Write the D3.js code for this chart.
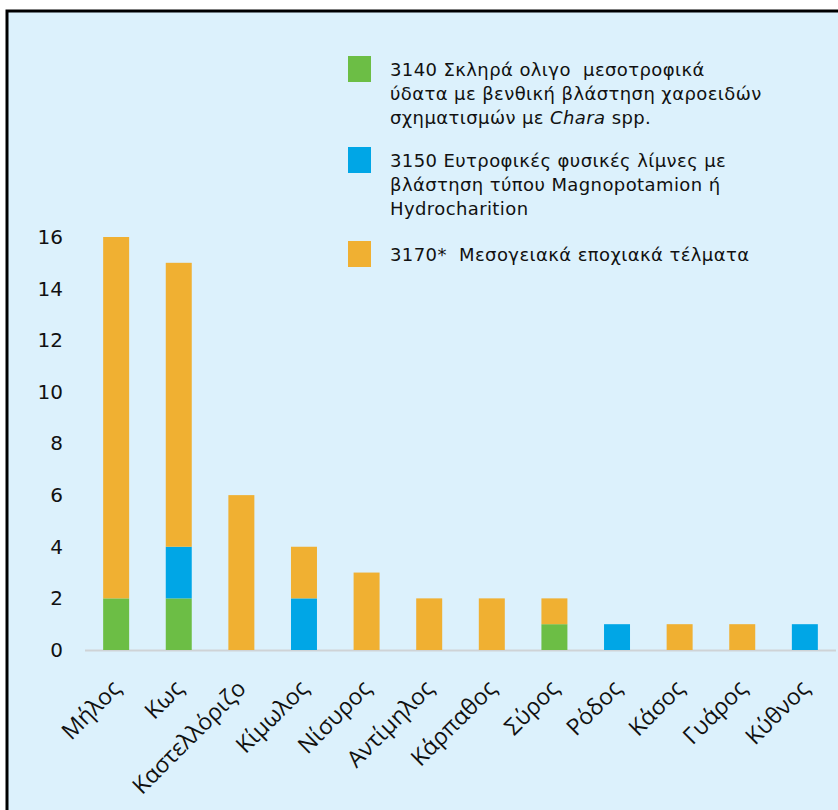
<!DOCTYPE html>
<html>
<head>
<meta charset="utf-8">
<script src="https://cdn.jsdelivr.net/npm/d3@7"></script>
<style>
  body { margin: 0; background: #fff; }
</style>
</head>
<body>
<div id="chart"></div>
<script>
// islands and habitat counts
const islands = ["Μήλος", "Κως", "Καστελλόριζο", "Κίμωλος", "Νίσυρος", "Αντίμηλος",
                 "Κάρπαθος", "Σύρος", "Ρόδος", "Κάσος", "Γυάρος", "Κύθνος"];
const h3140 = [2, 2, 0, 0, 0, 0, 0, 1, 0, 0, 0, 0];
const h3150 = [0, 2, 0, 2, 0, 0, 0, 0, 1, 0, 0, 1];
const h3170 = [14, 11, 6, 2, 3, 2, 2, 1, 0, 1, 1, 0];
const yTicks = [0, 2, 4, 6, 8, 10, 12, 14, 16];

const series = [
  { key: "3140", values: h3140, color: "#6cbe45" },
  { key: "3150", values: h3150, color: "#00a6e6" },
  { key: "3170", values: h3170, color: "#f0b032" }
];

const width = 838, height = 810;
const svg = d3.select("#chart").append("svg")
    .attr("width", width)
    .attr("height", height);

// framed panel
svg.append("rect")
    .attr("x", 7).attr("y", 11)
    .attr("width", width).attr("height", height)
    .attr("fill", "#dcf1fc")
    .attr("stroke", "#000")
    .attr("stroke-width", 3);

const rows = islands.map((name, i) => {
  const r = { name };
  series.forEach(s => r[s.key] = s.values[i]);
  return r;
});
const stacked = d3.stack().keys(series.map(s => s.key))(rows);

const x = d3.scaleBand()
    .domain(islands)
    .range([85, 836])
    .paddingInner(0.585)
    .paddingOuter(0.29);

const y = d3.scaleLinear()
    .domain([0, 16])
    .range([650, 237]);

// baseline
svg.append("line")
    .attr("x1", 85).attr("x2", 836)
    .attr("y1", y(0) + 0.5).attr("y2", y(0) + 0.5)
    .attr("stroke", "#cfd3d6")
    .attr("stroke-width", 2);

svg.append("g")
    .selectAll("g")
    .data(stacked)
    .join("g")
    .attr("fill", (d, i) => series[i].color)
    .selectAll("rect")
    .data(d => d)
    .join("rect")
    .attr("x", d => x(d.data.name))
    .attr("y", d => y(d[1]))
    .attr("width", x.bandwidth())
    .attr("height", d => y(d[0]) - y(d[1]));

// y axis labels
const yAxis = d3.axisLeft(y).tickValues(yTicks).tickSize(0).tickPadding(0);
svg.append("g")
    .attr("transform", "translate(63,0)")
    .call(yAxis)
    .call(g => g.select(".domain").remove())
    .call(g => g.selectAll("text")
        .attr("font-family", "DejaVu Sans, Verdana, sans-serif")
        .attr("font-size", 20)
        .attr("fill", "#111"));

// x axis labels
const xAxis = d3.axisBottom(x).tickSize(0).tickPadding(0);
svg.append("g")
    .attr("transform", `translate(0,${y(0)})`)
    .call(xAxis)
    .call(g => g.select(".domain").remove())
    .call(g => g.selectAll("text")
        .attr("font-family", "Open Sans, Noto Sans, sans-serif")
        .attr("font-size", 23)
        .attr("fill", "#111")
        .attr("text-anchor", "end")
        .attr("dy", 0)
        .attr("transform", "translate(6,40) rotate(-45)"));

// legend
const legendItems = [
  { color: series[0].color, y: 56, lines: [
      [["3140 Σκληρά ολιγο  μεσοτροφικά", false]],
      [["ύδατα με βενθική βλάστηση χαροειδών", false]],
      [["σχηματισμών με ", false], ["Chara", true], [" spp.", false]] ] },
  { color: series[1].color, y: 147, lines: [
      [["3150 Ευτροφικές φυσικές λίμνες με", false]],
      [["βλάστηση τύπου Magnopotamion ή", false]],
      [["Hydrocharition", false]] ] },
  { color: series[2].color, y: 241, lines: [
      [["3170*  Μεσογειακά εποχιακά τέλματα", false]] ] }
];

const legend = svg.append("g");
legendItems.forEach(item => {
  legend.append("rect")
      .attr("x", 348).attr("y", item.y)
      .attr("width", 23).attr("height", 26)
      .attr("fill", item.color);
  const t = legend.append("text")
      .attr("font-family", "DejaVu Sans, Verdana, sans-serif")
      .attr("font-size", 18)
      .attr("letter-spacing", 0.4)
      .attr("fill", "#111")
      .attr("xml:space", "preserve");
  item.lines.forEach((parts, li) => {
    parts.forEach((p, pi) => {
      const ts = t.append("tspan").text(p[0]);
      if (pi === 0) ts.attr("x", 390).attr("y", item.y + 20 + li * 24);
      if (p[1]) ts.attr("font-style", "italic");
    });
  });
});
</script>
</body>
</html>
